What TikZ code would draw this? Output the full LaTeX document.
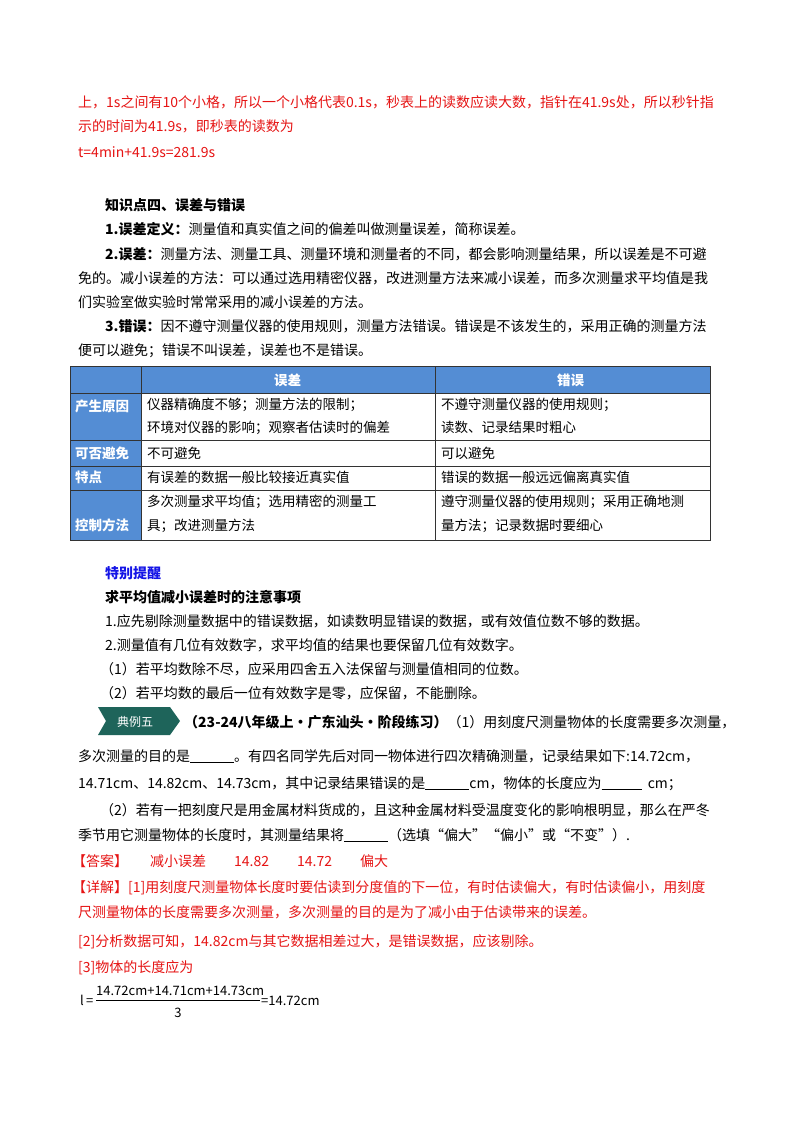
\documentclass[tikz,border=0pt]{standalone}
\usepackage{fontspec}
\setmainfont{Noto Sans CJK SC}
\usetikzlibrary{calc}
\definecolor{red1}{RGB}{230,20,20}
\definecolor{hdr}{RGB}{84,141,212}
\definecolor{teal1}{RGB}{30,100,90}
\definecolor{blue1}{RGB}{20,20,230}
\begin{document}
\begin{tikzpicture}[x=1pt,y=-1pt,
 t/.style={anchor=base west,inner sep=0pt,font=\fontsize{14}{16}\selectfont},
 r/.style={t,text=red1},
 b/.style={t,font=\fontsize{14}{16}\selectfont\bfseries},
 h/.style={anchor=base west,inner sep=0pt,text=white,font=\fontsize{13.5}{15}\selectfont\bfseries},
 c/.style={anchor=base west,inner sep=0pt,font=\fontsize{13.5}{15}\selectfont},
 f/.style={anchor=base west,inner sep=0pt,font=\fontsize{13}{15}\selectfont}]
\useasboundingbox (0,0) rectangle (800,1132);
\fill[white] (0,0) rectangle (800,1132);
\node[r] (l1) at (78,107) {上，1s之间有10个小格，所以一个小格代表0.1s，秒表上的读数应读大数，指针在41.9s处，所以秒针指};
\node[r] (l2) at (78,131) {示的时间为41.9s，即秒表的读数为};
\node[r] (l3) at (78,157) {t=4min+41.9s=281.9s};
\node[b] (k4) at (105,210) {知识点四、误差与错误};
\node[t] (p1) at (105,234) {\textbf{1.误差定义：}测量值和真实值之间的偏差叫做测量误差，简称误差。};
\node[t] (p2) at (105,259) {\textbf{2.误差：}测量方法、测量工具、测量环境和测量者的不同，都会影响测量结果，所以误差是不可避};
\node[t] (p2b) at (78,283) {免的。减小误差的方法：可以通过选用精密仪器，改进测量方法来减小误差，而多次测量求平均值是我};
\node[t] (p2c) at (78,307) {们实验室做实验时常常采用的减小误差的方法。};
\node[t] (p3) at (105,331) {\textbf{3.错误：}因不遵守测量仪器的使用规则，测量方法错误。错误是不该发生的，采用正确的测量方法};
\node[t] (p3b) at (78,355) {便可以避免；错误不叫误差，误差也不是错误。};
% table
\fill[hdr] (70,366) rectangle (710,393);
\fill[hdr] (70,393) rectangle (141,540);
\draw[black!80,line width=0.8pt] (70,366) rectangle (710,540);
\draw[black!80,line width=0.6pt] (70,393)--(710,393) (70,440)--(710,440) (70,466)--(710,466) (70,490)--(710,490)
 (141,366)--(141,540) (435,366)--(435,540);
\node[h] (th1) at (274,385) {误差};
\node[h] (th2) at (557,385) {错误};
\node[h] (r1) at (75,411) {产生原因};
\node[h] (r2) at (75,458) {可否避免};
\node[h] (r3) at (75,482) {特点};
\node[h] (r4) at (75,530) {控制方法};
\node[c] (a1) at (147,409) {仪器精确度不够；测量方法的限制；};
\node[c] (a2) at (147,432) {环境对仪器的影响；观察者估读时的偏差};
\node[c] (b1) at (441,409) {不遵守测量仪器的使用规则；};
\node[c] (b2) at (441,432) {读数、记录结果时粗心};
\node[c] (a3) at (147,458) {不可避免};
\node[c] (b3) at (441,458) {可以避免};
\node[c] (a4) at (147,482) {有误差的数据一般比较接近真实值};
\node[c] (b4) at (441,482) {错误的数据一般远远偏离真实值};
\node[c] (a5) at (147,506) {多次测量求平均值；选用精密的测量工};
\node[c] (a6) at (147,530) {具；改进测量方法};
\node[c] (b5) at (441,506) {遵守测量仪器的使用规则；采用正确地测};
\node[c] (b6) at (441,530) {量方法；记录数据时要细心};
\node[b,text=blue1] (tb) at (105,578) {特别提醒};
\node[b] (qp) at (105,602) {求平均值减小误差时的注意事项};
\node[t] (q1) at (105,626) {1.应先剔除测量数据中的错误数据，如读数明显错误的数据，或有效值位数不够的数据。};
\node[t] (q2) at (105,650) {2.测量值有几位有效数字，求平均值的结果也要保留几位有效数字。};
\node[t] (q3) at (100,674) {（1）若平均数除不尽，应采用四舍五入法保留与测量值相同的位数。};
\node[t] (q4) at (100,698) {（2）若平均数的最后一位有效数字是零，应保留，不能删除。};
\fill[teal1] (98,707) -- (170,707) -- (180,721) -- (170,735) -- (98,735) -- (106,721) -- cycle;
\node[anchor=base west,inner sep=0pt,text=white,font=\fontsize{12}{13}\selectfont] (bd) at (117,726) {典例五};
\node[t] (e1) at (184,727) {\textbf{（23-24八年级上·广东汕头·阶段练习）}（1）用刻度尺测量物体的长度需要多次测量，};
\node[t] (e2) at (78,761) {多次测量的目的是\underline{\hspace{44pt}}。有四名同学先后对同一物体进行四次精确测量，记录结果如下:14.72cm，};
\node[t] (e3) at (78,788) {14.71cm、14.82cm、14.73cm，其中记录结果错误的是\underline{\hspace{44pt}}cm，物体的长度应为\underline{\hspace{40pt}}\ \ cm；};
\node[t] (e4) at (100,815) {（2）若有一把刻度尺是用金属材料货成的，且这种金属材料受温度变化的影响根明显，那么在严冬};
\node[t] (e5) at (78,840) {季节用它测量物体的长度时，其测量结果将\underline{\hspace{44pt}}（选填“偏大”“偏小”或“不变”）.};
\node[r] (ans) at (72,866) {【答案】\hspace{22pt}减小误差\hspace{28pt}14.82\hspace{28pt}14.72\hspace{28pt}偏大};
\node[r] (d1) at (72,892) {【详解】[1]用刻度尺测量物体长度时要估读到分度值的下一位，有时估读偏大，有时估读偏小，用刻度};
\node[r] (d2) at (78,917) {尺测量物体的长度需要多次测量，多次测量的目的是为了减小由于估读带来的误差。};
\node[r] (d3) at (78,946) {[2]分析数据可知，14.82cm与其它数据相差过大，是错误数据，应该剔除。};
\node[r] (d4) at (78,972) {[3]物体的长度应为};
\node[f] (fl) at (80,1005) {\textit{l}\,=};
\node[f] (fn) at (96,995) {14.72cm+14.71cm+14.73cm};
\draw[line width=0.5pt] (96,1000) -- (260,1000);
\node[f,anchor=base] (fd) at (178,1017) {3};
\node[f] (fr) at (261,1005) {=14.72cm};
\end{tikzpicture}
\end{document}
